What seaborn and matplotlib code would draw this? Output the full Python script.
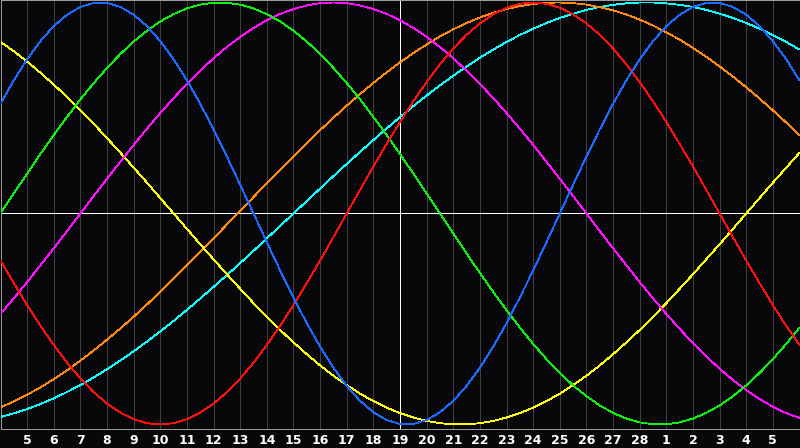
import matplotlib
matplotlib.use("Agg")
import matplotlib.pyplot as plt
import seaborn as sns
import pandas as pd

# ---- data (one value every half day, day index 0..30) ----
day_index = [i / 2 for i in range(61)]
tick_positions = list(range(1, 30))
tick_labels = ["5", "6", "7", "8", "9", "10", "11", "12", "13", "14", "15", "16",
               "17", "18", "19", "20", "21", "22", "23", "24", "25", "26", "27",
               "28", "1", "2", "3", "4", "5"]

blue = [0.520, 0.631, 0.731, 0.817, 0.888, 0.942, 0.979, 0.998, 0.998, 0.979,
        0.942, 0.888, 0.817, 0.731, 0.631, 0.520, 0.398, 0.270, 0.136, 0.000,
        -0.136, -0.270, -0.398, -0.520, -0.631, -0.731, -0.817, -0.888, -0.942,
        -0.979, -0.998, -0.998, -0.979, -0.942, -0.888, -0.817, -0.731, -0.631,
        -0.520, -0.398, -0.270, -0.136, 0.000, 0.136, 0.270, 0.398, 0.520, 0.631,
        0.731, 0.817, 0.888, 0.942, 0.979, 0.998, 0.998, 0.979, 0.942, 0.888,
        0.817, 0.731, 0.631]
red = [-0.223, -0.330, -0.434, -0.532, -0.623, -0.707, -0.782, -0.847, -0.901,
       -0.944, -0.975, -0.994, -1.000, -0.994, -0.975, -0.944, -0.901, -0.847,
       -0.782, -0.707, -0.623, -0.532, -0.434, -0.330, -0.223, -0.112, 0.000,
       0.112, 0.223, 0.330, 0.434, 0.532, 0.623, 0.707, 0.782, 0.847, 0.901,
       0.944, 0.975, 0.994, 1.000, 0.994, 0.975, 0.944, 0.901, 0.847, 0.782,
       0.707, 0.623, 0.532, 0.434, 0.330, 0.223, 0.112, 0.000, -0.112, -0.223,
       -0.330, -0.434, -0.532, -0.623]
green = [0.000, 0.095, 0.189, 0.282, 0.372, 0.458, 0.541, 0.618, 0.690, 0.756,
         0.815, 0.866, 0.910, 0.945, 0.972, 0.990, 0.999, 0.999, 0.990, 0.972,
         0.945, 0.910, 0.866, 0.815, 0.756, 0.690, 0.618, 0.541, 0.458, 0.372,
         0.282, 0.189, 0.095, 0.000, -0.095, -0.189, -0.282, -0.372, -0.458,
         -0.541, -0.618, -0.690, -0.756, -0.815, -0.866, -0.910, -0.945, -0.972,
         -0.990, -0.999, -0.999, -0.990, -0.972, -0.945, -0.910, -0.866, -0.815,
         -0.756, -0.690, -0.618, -0.541]
magenta = [-0.476, -0.402, -0.325, -0.245, -0.165, -0.083, 0.000, 0.083, 0.165,
           0.245, 0.325, 0.402, 0.476, 0.547, 0.614, 0.677, 0.736, 0.789, 0.837,
           0.879, 0.916, 0.946, 0.969, 0.986, 0.997, 1.000, 0.997, 0.986, 0.969,
           0.946, 0.916, 0.879, 0.837, 0.789, 0.736, 0.677, 0.614, 0.547, 0.476,
           0.402, 0.325, 0.245, 0.165, 0.083, 0.000, -0.083, -0.165, -0.245,
           -0.325, -0.402, -0.476, -0.547, -0.614, -0.677, -0.736, -0.789,
           -0.837, -0.879, -0.916, -0.946, -0.969]
yellow = [0.813, 0.769, 0.720, 0.667, 0.611, 0.552, 0.489, 0.425, 0.357, 0.288,
          0.217, 0.146, 0.073, 0.000, -0.073, -0.146, -0.217, -0.288, -0.357,
          -0.425, -0.489, -0.552, -0.611, -0.667, -0.720, -0.769, -0.813, -0.854,
          -0.889, -0.920, -0.946, -0.967, -0.983, -0.994, -0.999, -0.999, -0.994,
          -0.983, -0.967, -0.946, -0.920, -0.889, -0.854, -0.813, -0.769, -0.720,
          -0.667, -0.611, -0.552, -0.489, -0.425, -0.357, -0.288, -0.217, -0.146,
          -0.073, 0.000, 0.073, 0.146, 0.217, 0.288]
orange = [-0.919, -0.891, -0.859, -0.824, -0.785, -0.743, -0.697, -0.649, -0.598,
          -0.545, -0.489, -0.431, -0.371, -0.309, -0.246, -0.182, -0.118, -0.052,
          0.013, 0.078, 0.144, 0.208, 0.271, 0.334, 0.395, 0.454, 0.511, 0.566,
          0.619, 0.669, 0.716, 0.760, 0.801, 0.839, 0.873, 0.903, 0.929, 0.951,
          0.969, 0.983, 0.993, 0.999, 1.000, 0.997, 0.990, 0.978, 0.963, 0.943,
          0.919, 0.891, 0.859, 0.824, 0.785, 0.743, 0.697, 0.649, 0.598, 0.545,
          0.489, 0.431, 0.371]
cyan = [-0.965, -0.947, -0.927, -0.903, -0.876, -0.846, -0.813, -0.777, -0.738,
        -0.697, -0.653, -0.607, -0.559, -0.509, -0.457, -0.403, -0.348, -0.292,
        -0.235, -0.177, -0.118, -0.059, 0.000, 0.059, 0.118, 0.177, 0.235, 0.292,
        0.348, 0.403, 0.457, 0.509, 0.559, 0.607, 0.653, 0.697, 0.738, 0.777,
        0.813, 0.846, 0.876, 0.903, 0.927, 0.947, 0.965, 0.979, 0.989, 0.996,
        1.000, 1.000, 0.996, 0.989, 0.979, 0.965, 0.947, 0.927, 0.903, 0.876,
        0.846, 0.813, 0.777]

series = {"cyan": cyan, "orange": orange, "yellow": yellow, "magenta": magenta,
          "green": green, "red": red, "blue": blue}
palette = {"blue": "#1a6cff", "red": "#ff1010", "green": "#10f010",
           "magenta": "#ff10ff", "yellow": "#ffff10", "orange": "#ff8a10",
           "cyan": "#10ffff"}

df = pd.concat([pd.DataFrame({"day": day_index, "value": v, "cycle": k})
                for k, v in series.items()], ignore_index=True)

# ---- styling ----
bg = "#08080b"
sns.set_style("dark")
plt.rcParams["font.family"] = ["DejaVu Sans"]

W, H = 800, 448
LW = 0.7
fig = plt.figure(figsize=(W / 100, H / 100), dpi=100, facecolor=bg)
ax = fig.add_axes([0.5 / W, 19.5 / H, 799 / W, 428 / H])
ax.set_facecolor(bg)

# vertical day grid
for tp in tick_positions:
    ax.axvline(tp, color="#404044", lw=LW, zorder=1, antialiased=False)
# centre cross
ax.axhline(0, color="white", lw=LW, zorder=1.5, antialiased=False)
ax.axvline(15, color="white", lw=LW, zorder=1.5, antialiased=False)

sns.lineplot(data=df, x="day", y="value", hue="cycle", palette=palette,
             estimator=None, sort=False, legend=False, linewidth=0.6,
             ax=ax, zorder=3)
for ln in ax.get_lines()[31:]:
    ln.set_antialiased(False)

ax.set_xlim(0, 30)
ax.set_ylim(-1.019, 1.0095)
ax.set_xticks(tick_positions)
ax.set_xticklabels(tick_labels, color="white", fontsize=9, fontweight="bold")
ax.set_yticks([])
ax.tick_params(axis="x", length=0, pad=4)
ax.grid(False)
ax.set_xlabel("")
ax.set_ylabel("")
for s in ax.spines.values():
    s.set_visible(True)
    s.set_color("#a0a0a0")
    s.set_linewidth(LW)

fig.savefig("out.png", dpi=100, facecolor=bg)
